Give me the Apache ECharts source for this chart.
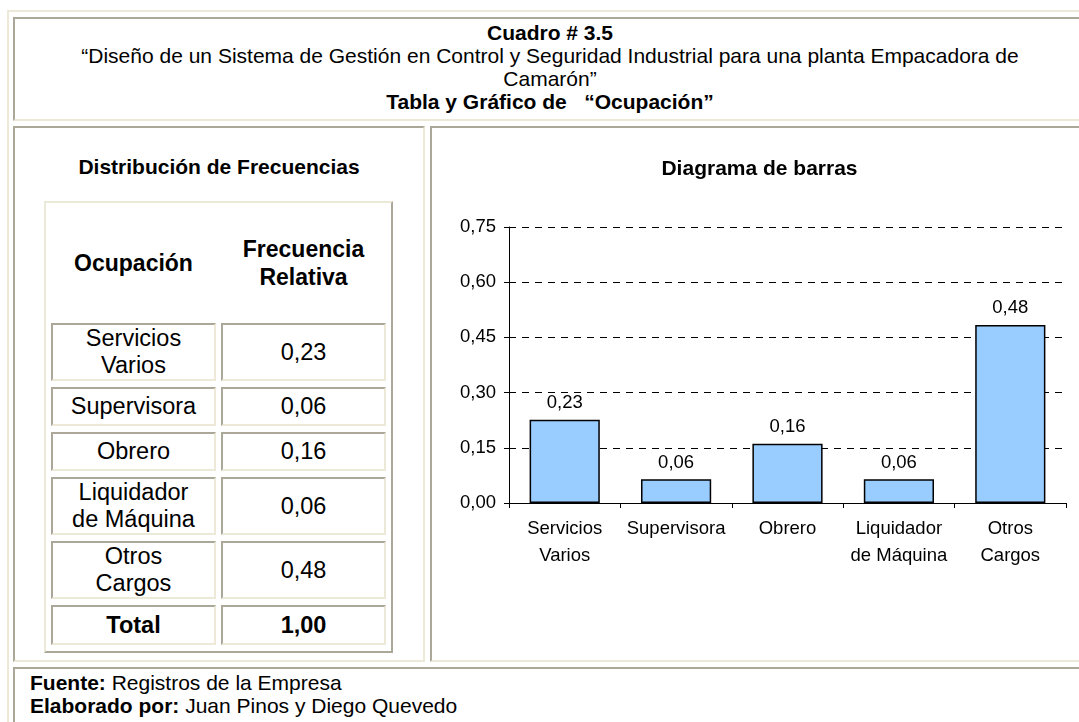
<!DOCTYPE html>
<html lang="es">
<head>
<meta charset="utf-8">
<title>Cuadro # 3.5 - Ocupación</title>
<script src="https://cdn.jsdelivr.net/npm/echarts@6/dist/echarts.min.js"></script>
<style>
  html, body {
    margin: 0;
    width: 1079px;
    height: 722px;
    overflow: hidden;
    background: #fff;
    font-family: Arial, "Liberation Sans", sans-serif;
    color: #000;
  }
  .box {
    position: absolute;
    box-sizing: border-box;
    border: 2px solid;
    border-color: #aca899 #ece9d8 #ece9d8 #aca899; /* celda hundida */
  }
  .outer {
    border-color: #ece9d8 #aca899 #aca899 #ece9d8; /* tabla en relieve */
  }
  .txt {
    position: absolute;
    text-align: center;
  }
  #tabla {
    position: absolute;
    left: 44px;
    top: 201px;
    width: 349px;
    box-sizing: border-box;
    table-layout: fixed;
    border-collapse: separate;
    border-spacing: 5px 6px;
    border: 2px solid;
    border-color: #ece9d8 #aca899 #aca899 #ece9d8;
  }
  #tabla td {
    box-sizing: border-box;
    width: 165px;
    padding: 0;
    border: 2px solid;
    border-color: #aca899 #ece9d8 #ece9d8 #aca899;
    text-align: center;
    vertical-align: middle;
    font-size: 23.5px;
    line-height: 27px;
  }
  #tabla th {
    font-size: 23px;
    line-height: 28px;
  }
  #chart {
    position: absolute;
    left: 432px;
    top: 128px;
    width: 655px;
    height: 532px;
  }
</style>
</head>
<body>
  <div class="box outer" style="left:7px;top:10px;width:1100px;height:800px;"></div>
  <div class="box" style="left:13px;top:17px;width:1074px;height:104px;"></div>
  <div class="box" style="left:13px;top:126px;width:412px;height:536px;"></div>
  <div class="box" style="left:430px;top:126px;width:657px;height:536px;"></div>
  <div class="box" style="left:13px;top:667px;width:1074px;height:100px;"></div>

  <!-- encabezado -->
  <div class="txt" style="left:13px;top:21px;width:1074px;font-size:21px;line-height:23px;">
    <b>Cuadro # 3.5</b><br>
    “Diseño de un Sistema de Gestión en Control y Seguridad Industrial para una planta Empacadora de<br>
    Camarón”<br>
    <b>Tabla y Gráfico de&nbsp;&nbsp; “Ocupación”</b>
  </div>

  <div class="txt" style="left:13px;top:155px;width:412px;font-size:21px;line-height:24px;font-weight:bold;">
    Distribución de Frecuencias
  </div>

  <table id="tabla"></table>

  <div id="chart"></div>

  <!-- pie -->
  <div style="position:absolute;left:30px;top:671px;font-size:21px;line-height:23px;">
    <b>Fuente:</b> Registros de la Empresa<br>
    <b>Elaborado por:</b> Juan Pinos y Diego Quevedo
  </div>

<script>
const ocupaciones = ['Servicios\nVarios', 'Supervisora', 'Obrero', 'Liquidador\nde Máquina', 'Otros\nCargos'];
const frecuencias = [0.226, 0.0645, 0.161, 0.0645, 0.484]; // altura de cada barra
const etiquetas = ['0,23', '0,06', '0,16', '0,06', '0,48'];  // valores impresos
const total = '1,00';
const yMin = 0, yMax = 0.75, yStep = 0.15;

const FONT = 'Arial, "Liberation Sans", sans-serif';

// tabla de frecuencias a la izquierda
let html = '<tr style="height:108px"><th>Ocupación</th><th>Frecuencia<br>Relativa</th></tr>';
ocupaciones.forEach(function (nombre, i) {
  const alto = nombre.indexOf('\n') >= 0 ? 58 : 39;
  html += '<tr style="height:' + alto + 'px"><td>' + nombre.replace('\n', '<br>') +
          '</td><td>' + etiquetas[i] + '</td></tr>';
});
html += '<tr style="height:40px"><td><b>Total</b></td><td><b>' + total + '</b></td></tr>';
document.getElementById('tabla').innerHTML = html;

// diagrama de barras
const chart = echarts.init(document.getElementById('chart'), null, { renderer: 'canvas' });

const option = {
  animation: false,
  textStyle: { fontFamily: FONT },
  title: {
    text: 'Diagrama de barras',
    left: 'center',
    top: 26,
    textStyle: { fontSize: 21, fontWeight: 'bold', color: '#000', fontFamily: FONT }
  },
  grid: { left: 77, right: 21, top: 99, bottom: 157, containLabel: false },
  xAxis: {
    type: 'category',
    data: ocupaciones,
    axisLine: { lineStyle: { color: '#000', width: 1 } },
    axisTick: { show: true, length: 5, lineStyle: { color: '#000' } },
    axisLabel: { color: '#000', fontSize: 18.5, lineHeight: 27, margin: 12, interval: 0 }
  },
  yAxis: {
    type: 'value',
    min: yMin,
    max: yMax,
    interval: yStep,
    axisLine: { show: true, lineStyle: { color: '#000', width: 1 } },
    axisTick: { show: true, length: 5, lineStyle: { color: '#000' } },
    axisLabel: {
      color: '#000',
      fontSize: 18.5,
      margin: 13,
      formatter: function (v) { return v.toFixed(2).replace('.', ','); }
    },
    splitLine: { show: true, lineStyle: { color: '#000', width: 1, type: [7, 6] } }
  },
  series: [
    {
      type: 'bar',
      data: frecuencias,
      barCategoryGap: '37%',
      itemStyle: { color: '#99ccff', borderColor: '#000', borderWidth: 1.5 },
      label: {
        show: true,
        position: 'top',
        distance: 7,
        color: '#000',
        fontSize: 18.5,
        formatter: function (p) { return etiquetas[p.dataIndex]; }
      }
    }
  ]
};

chart.setOption(option);
</script>
</body>
</html>
